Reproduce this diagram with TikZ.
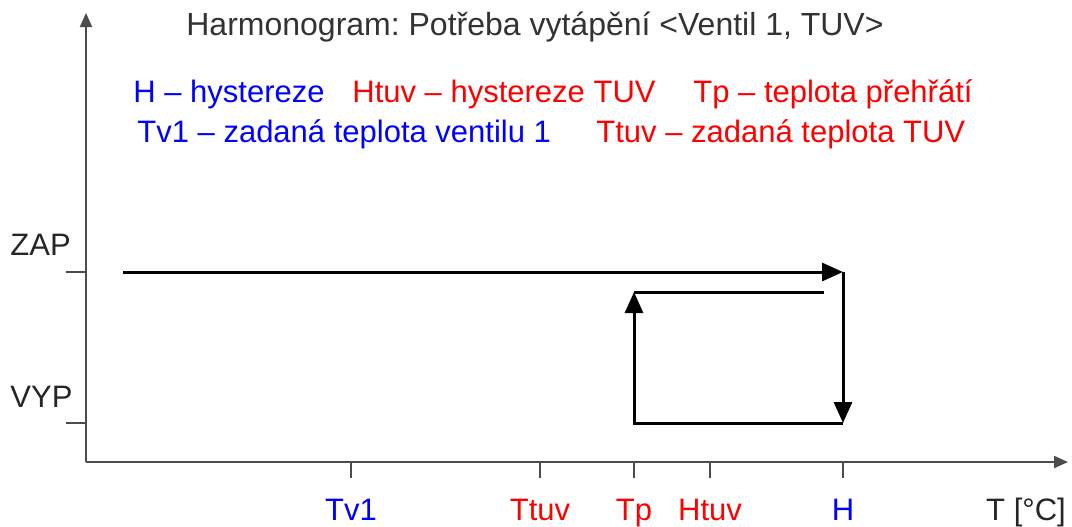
\documentclass[tikz,border=0pt]{standalone}
\usepackage{fontspec}
\setmainfont{Liberation Sans}
\usetikzlibrary{arrows.meta}
\frenchspacing

\begin{document}
\begin{tikzpicture}[x=0.5pt,y=-0.5pt,>={Triangle[length=7pt,width=6pt]},
		osa/.style={draw=black!70,line width=1pt},
		sig/.style={line width=1.5pt},
		sigtip/.style={-{Triangle[length=10.5pt,width=9pt]}},
		txt/.style={font=\fontsize{15.5}{18}\selectfont,inner sep=0pt},
		modra/.style={txt,text=blue},
		cervena/.style={txt,text=red}]
		\useasboundingbox (0,0) rectangle (1072,526);
		\coordinate (o) at (86,462);
		\coordinate (ytop) at (86,13);
		\coordinate (xend) at (1068,462);
		\draw[osa,->] (o) -- (ytop);
		\draw[osa,->] (o) -- (xend);
		\node[txt,font=\fontsize{16}{18}\selectfont,text=black!80,anchor=base] (nadpis) at (535,35) {Harmonogram: Potřeba vytápění <Ventil 1, TUV>};
		\node[modra,anchor=base west] (lh) at (133,102) {H – hystereze};
		\node[cervena,anchor=base west] (lhtuv) at (352,102) {Htuv – hystereze TUV};
		\node[cervena,anchor=base west] (ltp) at (693,102) {Tp – teplota přehřátí};
		\node[modra,anchor=base west] (ltv) at (137,142) {Tv1 – zadaná teplota ventilu 1};
		\node[cervena,anchor=base west] (lttuv) at (596,142) {Ttuv – zadaná teplota TUV};
		\draw[osa] (66,272) -- (86,272);
		\draw[osa] (66,423) -- (86,423);
		\node[txt,text=black!85,anchor=base west] (zap) at (10,255) {ZAP};
		\node[txt,text=black!85,anchor=base west] (vyp) at (10,407) {VYP};
		\foreach \x/\n/\c in {351/Tv1/blue,540/Ttuv/red,634/Tp/red,710/Htuv/red,843/H/blue}{
			\draw[osa] (\x,462) -- (\x,478);
			\node[txt,text=\c,anchor=base] (t\n) at (\x,520) {\n};
		}
		\node[txt,text=black!85,anchor=base] (tc) at (1026,520) {T [°C]};
		\coordinate (zs) at (123,272);
		\coordinate (zh) at (843,272);
		\coordinate (vh) at (843,423);
		\coordinate (vp) at (634,423);
		\coordinate (tp) at (634,292);
		\coordinate (te) at (824,292);
		\draw[sig,sigtip] (zs) -- (zh);
		\draw[sig,sigtip] (zh) -- (vh);
		\draw[sig,sigtip] (vh) -- (vp) -- (tp);
		\draw[sig] (tp) -- (te);
		%\node at (0,0) {};
		\end{tikzpicture}
\end{document}
